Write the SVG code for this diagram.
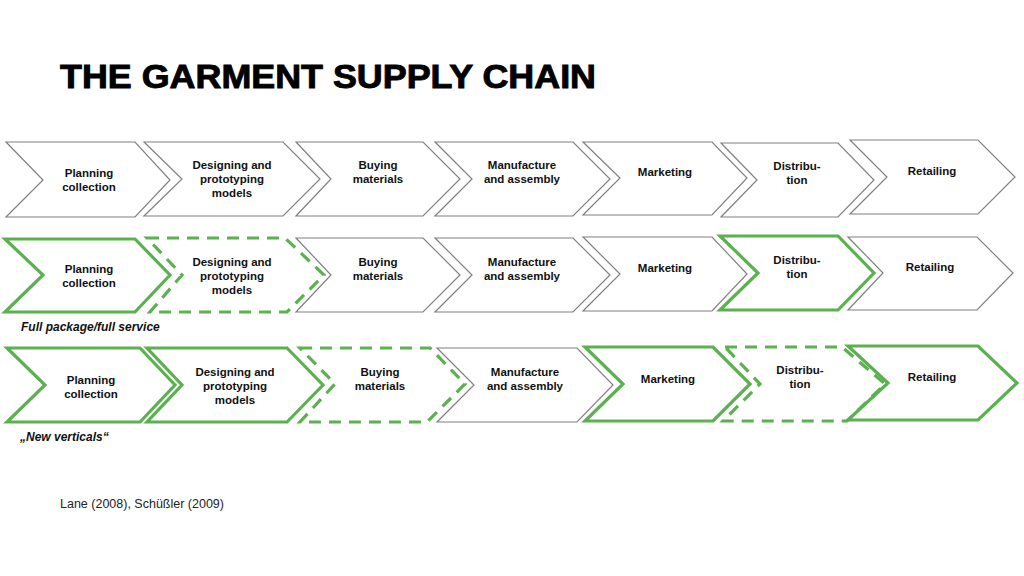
<svg xmlns="http://www.w3.org/2000/svg" width="1024" height="576" viewBox="0 0 1024 576">
<style>
.g{fill:#fff;stroke:#808080;stroke-width:1.2;stroke-linejoin:miter}
.s{fill:#fff;stroke:#5bb14f;stroke-width:3.2;stroke-linejoin:miter}
.d{fill:#fff;stroke:#5bb14f;stroke-width:3.2;stroke-dasharray:12 8;stroke-linejoin:miter}
.t{font-family:"Liberation Sans",Arial,sans-serif;font-weight:bold;font-size:11.5px;fill:#111;text-anchor:middle}
.n{font-family:"Liberation Sans",Arial,sans-serif;font-weight:bold;font-style:italic;font-size:12px;fill:#111}
</style>
<rect width="1024" height="576" fill="#fff"/>
<text x="60" y="88" font-family="Liberation Sans,Arial,sans-serif" font-weight="bold" font-size="33" textLength="536" lengthAdjust="spacingAndGlyphs" fill="#000" stroke="#000" stroke-width="0.9">THE GARMENT SUPPLY CHAIN</text>

<!-- Row 1 -->
<g id="r1-planning"><polygon class="g" points="6,142 135,142 170,180 135,217 6,217 43,180"/><text class="t" x="89" y="177">Planning</text><text class="t" x="89" y="191">collection</text></g>
<g id="r1-designing"><polygon class="g" points="144,142 283,142 320,179 283,216 144,216 182,179"/><text class="t" x="232" y="169">Designing and</text><text class="t" x="232" y="183">prototyping</text><text class="t" x="232" y="197">models</text></g>
<g id="r1-buying"><polygon class="g" points="296,142 423,142 460,179 423,216 296,216 331,179"/><text class="t" x="378" y="169">Buying</text><text class="t" x="378" y="183">materials</text></g>
<g id="r1-manufacture"><polygon class="g" points="435,142 573,142 610,179 573,216 435,216 472,179"/><text class="t" x="522" y="169">Manufacture</text><text class="t" x="522" y="183">and assembly</text></g>
<g id="r1-marketing"><polygon class="g" points="583,142 712,142 747,178 712,215 583,215 620,178"/><text class="t" x="665" y="176">Marketing</text></g>
<g id="r1-distribution"><polygon class="g" points="721,143 838,143 874,180 838,217 721,217 757,180"/><text class="t" x="797" y="170">Distribu-</text><text class="t" x="797" y="184">tion</text></g>
<g id="r1-retailing"><polygon class="g" points="850,140 978,140 1015,177 978,214 850,214 887,177"/><text class="t" x="932" y="175">Retailing</text></g>

<!-- Row 2 -->
<g id="r2-planning"><polygon class="s" points="5,239 135,239 170,275 135,312 5,312 43,275"/><text class="t" x="89" y="273">Planning</text><text class="t" x="89" y="287">collection</text></g>
<g id="r2-designing"><polygon class="d" points="147,238 285,238 324,275 287,312 150,312 182,275"/><text class="t" x="232" y="266">Designing and</text><text class="t" x="232" y="280">prototyping</text><text class="t" x="232" y="294">models</text></g>
<g id="r2-buying"><polygon class="g" points="296,238 423,238 460,275 423,312 296,312 331,275"/><text class="t" x="378" y="266">Buying</text><text class="t" x="378" y="280">materials</text></g>
<g id="r2-manufacture"><polygon class="g" points="435,238 573,238 610,275 573,312 435,312 472,275"/><text class="t" x="522" y="266">Manufacture</text><text class="t" x="522" y="280">and assembly</text></g>
<g id="r2-marketing"><polygon class="g" points="583,237 712,237 747,274 712,311 583,311 620,274"/><text class="t" x="665" y="272">Marketing</text></g>
<g id="r2-distribution"><polygon class="s" points="720,236 838,236 874,273 838,310 720,310 758,273"/><text class="t" x="797" y="264">Distribu-</text><text class="t" x="797" y="278">tion</text></g>
<g id="r2-retailing"><polygon class="g" points="848,237 977,237 1013,273 977,310 848,310 883,273"/><text class="t" x="930" y="271">Retailing</text></g>
<text class="n" x="21" y="331">Full package/full service</text>

<!-- Row 3 -->
<g id="r3-planning"><polygon class="s" points="7,348 140,348 175,385 140,422 7,422 45,385"/><text class="t" x="91" y="384">Planning</text><text class="t" x="91" y="398">collection</text></g>
<g id="r3-designing"><polygon class="s" points="147,348 287,348 323,385 287,422 147,422 182,385"/><text class="t" x="235" y="376">Designing and</text><text class="t" x="235" y="390">prototyping</text><text class="t" x="235" y="404">models</text></g>
<g id="r3-buying"><polygon class="d" points="300,348 430,348 465,384 427,422 300,422 335,384"/><text class="t" x="380" y="376">Buying</text><text class="t" x="380" y="390">materials</text></g>
<g id="r3-manufacture"><polygon class="g" points="437,348 577,348 613,385 577,422 437,422 474,385"/><text class="t" x="525" y="376">Manufacture</text><text class="t" x="525" y="390">and assembly</text></g>
<g id="r3-marketing"><polygon class="s" points="585,347 713,347 750,384 713,421 585,421 623,384"/><text class="t" x="668" y="383">Marketing</text></g>
<g id="r3-distribution"><polygon class="d" points="725,347 842,347 885,384 847,421 723,421 760,384"/><text class="t" x="800" y="374">Distribu-</text><text class="t" x="800" y="388">tion</text></g>
<g id="r3-retailing"><polygon class="s" points="848,346 978,346 1017,383 978,420 848,420 888,383"/><text class="t" x="932" y="381">Retailing</text></g>
<text class="n" x="20" y="441">„New verticals“</text>

<text x="60" y="508" font-family="Liberation Sans,Arial,sans-serif" font-size="12.5" fill="#222">Lane (2008), Schüßler (2009)</text>
</svg>
